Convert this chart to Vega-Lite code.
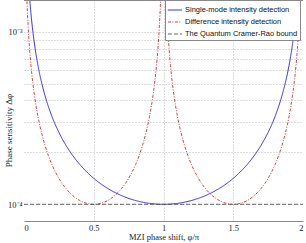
{
  "$schema": "https://vega.github.io/schema/vega-lite/v6.json",
  "autosize": {"type": "none"},
  "width": 279,
  "height": 221,
  "padding": {"left": 24, "top": 0, "right": 3, "bottom": 22},
  "background": "white",
  "config": {
    "view": {"stroke": null},
    "font": "Liberation Serif"
  },
  "data": {
    "values": [
      {"s": "Single-mode intensity detection", "g": "b", "x": 0.02, "y": 0.00318},
      {"s": "Single-mode intensity detection", "g": "b", "x": 0.03, "y": 0.002123},
      {"s": "Single-mode intensity detection", "g": "b", "x": 0.04, "y": 0.0015926},
      {"s": "Single-mode intensity detection", "g": "b", "x": 0.05, "y": 0.0012745},
      {"s": "Single-mode intensity detection", "g": "b", "x": 0.06, "y": 0.0010626},
      {"s": "Single-mode intensity detection", "g": "b", "x": 0.08, "y": 0.0007979},
      {"s": "Single-mode intensity detection", "g": "b", "x": 0.1, "y": 0.0006392},
      {"s": "Single-mode intensity detection", "g": "b", "x": 0.125, "y": 0.0005126},
      {"s": "Single-mode intensity detection", "g": "b", "x": 0.15, "y": 0.0004284},
      {"s": "Single-mode intensity detection", "g": "b", "x": 0.2, "y": 0.0003236},
      {"s": "Single-mode intensity detection", "g": "b", "x": 0.25, "y": 0.0002613},
      {"s": "Single-mode intensity detection", "g": "b", "x": 0.3, "y": 0.0002203},
      {"s": "Single-mode intensity detection", "g": "b", "x": 0.35, "y": 0.0001914},
      {"s": "Single-mode intensity detection", "g": "b", "x": 0.4, "y": 0.0001701},
      {"s": "Single-mode intensity detection", "g": "b", "x": 0.45, "y": 0.000154},
      {"s": "Single-mode intensity detection", "g": "b", "x": 0.5, "y": 0.0001414},
      {"s": "Single-mode intensity detection", "g": "b", "x": 0.6, "y": 0.0001236},
      {"s": "Single-mode intensity detection", "g": "b", "x": 0.7, "y": 0.00011223},
      {"s": "Single-mode intensity detection", "g": "b", "x": 0.8, "y": 0.00010515},
      {"s": "Single-mode intensity detection", "g": "b", "x": 0.9, "y": 0.00010125},
      {"s": "Single-mode intensity detection", "g": "b", "x": 1.0, "y": 0.0001},
      {"s": "Single-mode intensity detection", "g": "b", "x": 1.1, "y": 0.00010125},
      {"s": "Single-mode intensity detection", "g": "b", "x": 1.2, "y": 0.00010515},
      {"s": "Single-mode intensity detection", "g": "b", "x": 1.3, "y": 0.00011223},
      {"s": "Single-mode intensity detection", "g": "b", "x": 1.4, "y": 0.0001236},
      {"s": "Single-mode intensity detection", "g": "b", "x": 1.5, "y": 0.0001414},
      {"s": "Single-mode intensity detection", "g": "b", "x": 1.55, "y": 0.000154},
      {"s": "Single-mode intensity detection", "g": "b", "x": 1.6, "y": 0.0001701},
      {"s": "Single-mode intensity detection", "g": "b", "x": 1.65, "y": 0.0001914},
      {"s": "Single-mode intensity detection", "g": "b", "x": 1.7, "y": 0.0002203},
      {"s": "Single-mode intensity detection", "g": "b", "x": 1.75, "y": 0.0002613},
      {"s": "Single-mode intensity detection", "g": "b", "x": 1.8, "y": 0.0003236},
      {"s": "Single-mode intensity detection", "g": "b", "x": 1.85, "y": 0.0004284},
      {"s": "Single-mode intensity detection", "g": "b", "x": 1.875, "y": 0.0005126},
      {"s": "Single-mode intensity detection", "g": "b", "x": 1.9, "y": 0.0006392},
      {"s": "Single-mode intensity detection", "g": "b", "x": 1.92, "y": 0.0007979},
      {"s": "Single-mode intensity detection", "g": "b", "x": 1.94, "y": 0.0010626},
      {"s": "Single-mode intensity detection", "g": "b", "x": 1.95, "y": 0.0012745},
      {"s": "Single-mode intensity detection", "g": "b", "x": 1.96, "y": 0.0015926},
      {"s": "Single-mode intensity detection", "g": "b", "x": 1.97, "y": 0.002123},
      {"s": "Single-mode intensity detection", "g": "b", "x": 1.98, "y": 0.00318},

      {"s": "Difference intensity detection", "g": "r1", "x": 0.01, "y": 0.00318},
      {"s": "Difference intensity detection", "g": "r1", "x": 0.015, "y": 0.002123},
      {"s": "Difference intensity detection", "g": "r1", "x": 0.02, "y": 0.0015926},
      {"s": "Difference intensity detection", "g": "r1", "x": 0.025, "y": 0.0012745},
      {"s": "Difference intensity detection", "g": "r1", "x": 0.03, "y": 0.0010626},
      {"s": "Difference intensity detection", "g": "r1", "x": 0.04, "y": 0.0007979},
      {"s": "Difference intensity detection", "g": "r1", "x": 0.05, "y": 0.0006392},
      {"s": "Difference intensity detection", "g": "r1", "x": 0.0625, "y": 0.0005126},
      {"s": "Difference intensity detection", "g": "r1", "x": 0.075, "y": 0.0004284},
      {"s": "Difference intensity detection", "g": "r1", "x": 0.1, "y": 0.0003236},
      {"s": "Difference intensity detection", "g": "r1", "x": 0.125, "y": 0.0002613},
      {"s": "Difference intensity detection", "g": "r1", "x": 0.15, "y": 0.0002203},
      {"s": "Difference intensity detection", "g": "r1", "x": 0.175, "y": 0.0001914},
      {"s": "Difference intensity detection", "g": "r1", "x": 0.2, "y": 0.0001701},
      {"s": "Difference intensity detection", "g": "r1", "x": 0.225, "y": 0.000154},
      {"s": "Difference intensity detection", "g": "r1", "x": 0.25, "y": 0.0001414},
      {"s": "Difference intensity detection", "g": "r1", "x": 0.3, "y": 0.0001236},
      {"s": "Difference intensity detection", "g": "r1", "x": 0.35, "y": 0.00011223},
      {"s": "Difference intensity detection", "g": "r1", "x": 0.4, "y": 0.00010515},
      {"s": "Difference intensity detection", "g": "r1", "x": 0.45, "y": 0.00010125},
      {"s": "Difference intensity detection", "g": "r1", "x": 0.5, "y": 0.0001},
      {"s": "Difference intensity detection", "g": "r1", "x": 0.55, "y": 0.00010125},
      {"s": "Difference intensity detection", "g": "r1", "x": 0.6, "y": 0.00010515},
      {"s": "Difference intensity detection", "g": "r1", "x": 0.65, "y": 0.00011223},
      {"s": "Difference intensity detection", "g": "r1", "x": 0.7, "y": 0.0001236},
      {"s": "Difference intensity detection", "g": "r1", "x": 0.75, "y": 0.0001414},
      {"s": "Difference intensity detection", "g": "r1", "x": 0.775, "y": 0.000154},
      {"s": "Difference intensity detection", "g": "r1", "x": 0.8, "y": 0.0001701},
      {"s": "Difference intensity detection", "g": "r1", "x": 0.825, "y": 0.0001914},
      {"s": "Difference intensity detection", "g": "r1", "x": 0.85, "y": 0.0002203},
      {"s": "Difference intensity detection", "g": "r1", "x": 0.875, "y": 0.0002613},
      {"s": "Difference intensity detection", "g": "r1", "x": 0.9, "y": 0.0003236},
      {"s": "Difference intensity detection", "g": "r1", "x": 0.925, "y": 0.0004284},
      {"s": "Difference intensity detection", "g": "r1", "x": 0.9375, "y": 0.0005126},
      {"s": "Difference intensity detection", "g": "r1", "x": 0.95, "y": 0.0006392},
      {"s": "Difference intensity detection", "g": "r1", "x": 0.96, "y": 0.0007979},
      {"s": "Difference intensity detection", "g": "r1", "x": 0.97, "y": 0.0010626},
      {"s": "Difference intensity detection", "g": "r1", "x": 0.975, "y": 0.0012745},
      {"s": "Difference intensity detection", "g": "r1", "x": 0.98, "y": 0.0015926},
      {"s": "Difference intensity detection", "g": "r1", "x": 0.985, "y": 0.002123},
      {"s": "Difference intensity detection", "g": "r1", "x": 0.99, "y": 0.00318},

      {"s": "Difference intensity detection", "g": "r2", "x": 1.01, "y": 0.00318},
      {"s": "Difference intensity detection", "g": "r2", "x": 1.015, "y": 0.002123},
      {"s": "Difference intensity detection", "g": "r2", "x": 1.02, "y": 0.0015926},
      {"s": "Difference intensity detection", "g": "r2", "x": 1.025, "y": 0.0012745},
      {"s": "Difference intensity detection", "g": "r2", "x": 1.03, "y": 0.0010626},
      {"s": "Difference intensity detection", "g": "r2", "x": 1.04, "y": 0.0007979},
      {"s": "Difference intensity detection", "g": "r2", "x": 1.05, "y": 0.0006392},
      {"s": "Difference intensity detection", "g": "r2", "x": 1.0625, "y": 0.0005126},
      {"s": "Difference intensity detection", "g": "r2", "x": 1.075, "y": 0.0004284},
      {"s": "Difference intensity detection", "g": "r2", "x": 1.1, "y": 0.0003236},
      {"s": "Difference intensity detection", "g": "r2", "x": 1.125, "y": 0.0002613},
      {"s": "Difference intensity detection", "g": "r2", "x": 1.15, "y": 0.0002203},
      {"s": "Difference intensity detection", "g": "r2", "x": 1.175, "y": 0.0001914},
      {"s": "Difference intensity detection", "g": "r2", "x": 1.2, "y": 0.0001701},
      {"s": "Difference intensity detection", "g": "r2", "x": 1.225, "y": 0.000154},
      {"s": "Difference intensity detection", "g": "r2", "x": 1.25, "y": 0.0001414},
      {"s": "Difference intensity detection", "g": "r2", "x": 1.3, "y": 0.0001236},
      {"s": "Difference intensity detection", "g": "r2", "x": 1.35, "y": 0.00011223},
      {"s": "Difference intensity detection", "g": "r2", "x": 1.4, "y": 0.00010515},
      {"s": "Difference intensity detection", "g": "r2", "x": 1.45, "y": 0.00010125},
      {"s": "Difference intensity detection", "g": "r2", "x": 1.5, "y": 0.0001},
      {"s": "Difference intensity detection", "g": "r2", "x": 1.55, "y": 0.00010125},
      {"s": "Difference intensity detection", "g": "r2", "x": 1.6, "y": 0.00010515},
      {"s": "Difference intensity detection", "g": "r2", "x": 1.65, "y": 0.00011223},
      {"s": "Difference intensity detection", "g": "r2", "x": 1.7, "y": 0.0001236},
      {"s": "Difference intensity detection", "g": "r2", "x": 1.75, "y": 0.0001414},
      {"s": "Difference intensity detection", "g": "r2", "x": 1.775, "y": 0.000154},
      {"s": "Difference intensity detection", "g": "r2", "x": 1.8, "y": 0.0001701},
      {"s": "Difference intensity detection", "g": "r2", "x": 1.825, "y": 0.0001914},
      {"s": "Difference intensity detection", "g": "r2", "x": 1.85, "y": 0.0002203},
      {"s": "Difference intensity detection", "g": "r2", "x": 1.875, "y": 0.0002613},
      {"s": "Difference intensity detection", "g": "r2", "x": 1.9, "y": 0.0003236},
      {"s": "Difference intensity detection", "g": "r2", "x": 1.925, "y": 0.0004284},
      {"s": "Difference intensity detection", "g": "r2", "x": 1.9375, "y": 0.0005126},
      {"s": "Difference intensity detection", "g": "r2", "x": 1.95, "y": 0.0006392},
      {"s": "Difference intensity detection", "g": "r2", "x": 1.96, "y": 0.0007979},
      {"s": "Difference intensity detection", "g": "r2", "x": 1.97, "y": 0.0010626},
      {"s": "Difference intensity detection", "g": "r2", "x": 1.975, "y": 0.0012745},
      {"s": "Difference intensity detection", "g": "r2", "x": 1.98, "y": 0.0015926},
      {"s": "Difference intensity detection", "g": "r2", "x": 1.985, "y": 0.002123},
      {"s": "Difference intensity detection", "g": "r2", "x": 1.99, "y": 0.00318},

      {"s": "The Quantum Cramer-Rao bound", "g": "k", "x": 0, "y": 0.0001},
      {"s": "The Quantum Cramer-Rao bound", "g": "k", "x": 2, "y": 0.0001}
    ]
  },
  "layer": [
    {
      "mark": {"type": "line", "clip": true, "interpolate": "monotone"},
      "encoding": {
        "x": {
          "field": "x", "type": "quantitative",
          "scale": {"domain": [0, 2], "nice": false, "zero": false},
          "axis": {
            "title": "MZI phase shift, φ/π",
            "values": [0, 0.5, 1, 1.5, 2],
            "format": "~g",
            "labelFont": "Liberation Serif", "labelFontSize": 8.5, "labelColor": "#222",
            "labelPadding": 2, "ticks": false,
            "domainColor": "#888", "domainWidth": 1,
            "grid": true, "gridDash": [1, 2], "gridColor": "#aaa", "gridWidth": 0.8,
            "gridOpacity": {"condition": {"test": "datum.value == 0 || datum.value == 2", "value": 0}, "value": 1},
            "titleFont": "Liberation Serif", "titleFontSize": 8.5, "titleFontWeight": "normal", "titleColor": "#222",
            "titlePadding": 1
          }
        },
        "y": {
          "field": "y", "type": "quantitative",
          "scale": {"type": "log", "domain": [0.00008, 0.00153], "nice": false},
          "axis": {
            "title": "Phase sensitivity Δφ",
            "values": [0.0001, 0.0002, 0.0003, 0.0004, 0.0005, 0.0006, 0.0007, 0.0008, 0.0009, 0.001],
            "labelExpr": "datum.value == 0.0001 ? '10⁻⁴' : (datum.value == 0.001 ? '10⁻³' : '')",
            "labelFont": "Liberation Serif", "labelFontSize": 8.5, "labelColor": "#222",
            "labelPadding": 2, "ticks": false, "domain": false,
            "grid": true, "gridDash": [1, 2], "gridColor": "#aaa", "gridWidth": 0.8,
            "titleFont": "Liberation Serif", "titleFontSize": 9, "titleFontWeight": "normal", "titleColor": "#222",
            "titleX": -16, "titleY": 130, "titleAngle": -90, "titleAlign": "center", "titleBaseline": "middle"
          }
        },
        "detail": {"field": "g"},
        "color": {
          "field": "s", "type": "nominal",
          "scale": {
            "domain": ["Single-mode intensity detection", "Difference intensity detection", "The Quantum Cramer-Rao bound"],
            "range": ["#1a1ae6", "#d42a2a", "#555555"]
          },
          "legend": {
            "title": null, "orient": "none", "legendX": 141, "legendY": 0,
            "symbolType": "stroke", "symbolSize": 200, "labelFont": "Liberation Sans", "labelFontSize": 7.5,
            "labelColor": "#111", "labelOffset": 2, "rowPadding": 0, "padding": 2,
            "strokeColor": "#888", "fillColor": "white"
          }
        },
        "strokeDash": {
          "field": "s", "type": "nominal",
          "scale": {
            "domain": ["Single-mode intensity detection", "Difference intensity detection", "The Quantum Cramer-Rao bound"],
            "range": [[1, 0], [3, 1.5, 1, 1.5], [4, 2]]
          },
          "legend": {
            "title": null, "orient": "none", "legendX": 141, "legendY": 0,
            "symbolType": "stroke", "symbolSize": 200, "labelFont": "Liberation Sans", "labelFontSize": 7.5,
            "labelColor": "#111", "labelOffset": 2, "rowPadding": 0, "padding": 2,
            "strokeColor": "#888", "fillColor": "white"
          }
        },
        "strokeWidth": {
          "field": "s", "type": "nominal",
          "scale": {
            "domain": ["Single-mode intensity detection", "Difference intensity detection", "The Quantum Cramer-Rao bound"],
            "range": [0.9, 0.9, 1.8]
          },
          "legend": {
            "title": null, "orient": "none", "legendX": 141, "legendY": 0,
            "symbolType": "stroke", "symbolSize": 200, "labelFont": "Liberation Sans", "labelFontSize": 7.5,
            "labelColor": "#111", "labelOffset": 2, "rowPadding": 0, "padding": 2,
            "strokeColor": "#888", "fillColor": "white"
          }
        }
      }
    },
    {
      "mark": {"type": "rule", "color": "#888", "strokeWidth": 1.2},
      "encoding": {"y": {"datum": 0.00153}}
    }
  ]
}
